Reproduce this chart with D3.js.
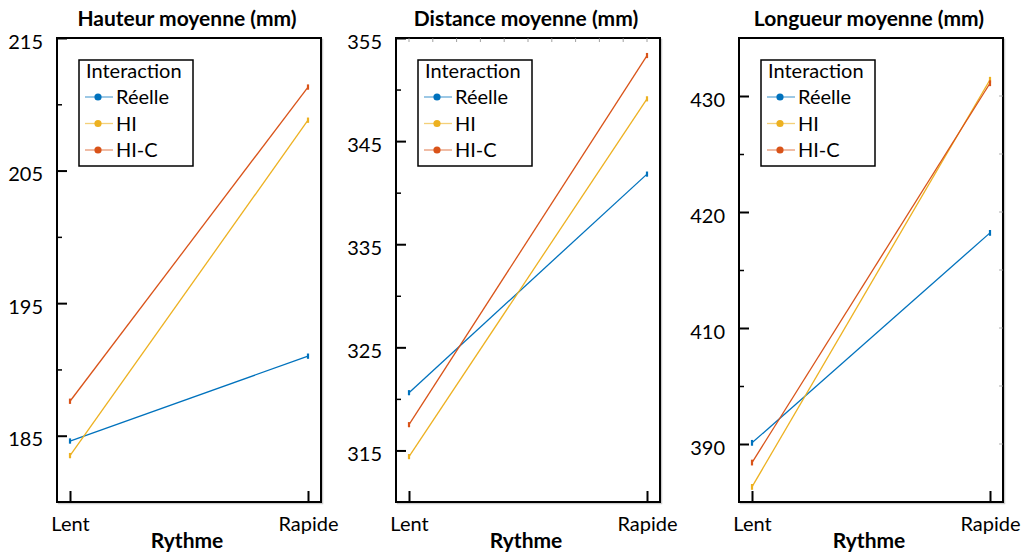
<html lang="fr">
<head>
    <meta charset="utf-8">
    <title>Rythme x Interaction</title>
    <script src="https://cdn.jsdelivr.net/npm/d3@7"></script>
    <style>
        body { margin: 0; background: #fff; }
        text { font-family: Lato, "Open Sans", sans-serif; fill: #000; }
        .title, .xlabel { font-weight: 700; font-size: 21px; }
        .tick-label { font-size: 20px; }
        .series { fill: none; stroke-width: 1.3px; }
    </style>
</head>
<body>
    <svg width="1022" height="554"></svg>
    <script>
        // categories
        var rythme = ["Lent", "Rapide"];
        var interactions = ["Réelle", "HI", "HI-C"];
        var colors = ["#0072BD", "#EDB120", "#D95319"];
        var titles = ["Hauteur moyenne (mm)", "Distance moyenne (mm)", "Longueur moyenne (mm)"];

        // values (Lent, Rapide)
        var hauteurReelle = [184.6, 191.0],
            hauteurHI = [183.5, 208.8],
            hauteurHIC = [187.6, 211.3];
        var distanceReelle = [320.6, 341.8],
            distanceHI = [314.4, 349.1],
            distanceHIC = [317.5, 353.3];
        var longueurReelle = [400.1, 418.2],
            longueurHI = [396.3, 431.4],
            longueurHIC = [398.4, 431.1];

        // half-length of the small error bars
        var errHalf = [0.2, 0.25, 0.25];

        // y axes
        var yDomains = [[180, 215], [310, 355], [395, 435]];
        var majorTicks = [[185, 195, 205, 215], [315, 325, 335, 345, 355], [400, 410, 420, 430]];
        var majorLabels = [["185", "195", "205", "215"], ["315", "325", "335", "345", "355"], ["390", "410", "420", "430"]];
        var minorTicks = [[190, 200, 210], [320, 330, 340, 350], [405, 415, 425]];

        var panels = [
            {series: [hauteurReelle, hauteurHI, hauteurHIC]},
            {series: [distanceReelle, distanceHI, distanceHIC]},
            {series: [longueurReelle, longueurHI, longueurHIC]}
        ];

        var svg = d3.select("svg");
        var lefts = [57, 396, 739], pw = 264, plotTop = 38, plotBottom = 502;

        panels.forEach(function(p, i) {
            var left = lefts[i], right = left + pw;
            var g = svg.append("g");

            var x = d3.scalePoint().domain(rythme).range([left + 13, right - 13]);
            var y = d3.scaleLinear().domain(yDomains[i]).range([plotBottom, plotTop]);

            // faint shadow + frame
            g.append("rect")
                .attr("x", left + 1.5).attr("y", plotTop + 1.5)
                .attr("width", pw).attr("height", plotBottom - plotTop)
                .attr("fill", "none").attr("stroke", "#ccc").attr("stroke-width", 1.5);
            g.append("rect")
                .attr("x", left).attr("y", plotTop)
                .attr("width", pw).attr("height", plotBottom - plotTop)
                .attr("fill", "#fff").attr("stroke", "#000").attr("stroke-width", 2);

            // faint mirrored ticks
            if (i === 1) {
                var xs = d3.scaleLinear().domain([0, 10]).range(x.range());
                g.append("g").selectAll("line").data(d3.range(11)).enter().append("line")
                    .attr("x1", function(d) { return xs(d); }).attr("x2", function(d) { return xs(d); })
                    .attr("y1", plotTop).attr("y2", plotTop + 4)
                    .attr("stroke", "#888").attr("stroke-width", 0.8);
            }
            if (i === 2) {
                g.append("g").selectAll("line").data(minorTicks[i].concat(majorTicks[i])).enter().append("line")
                    .attr("x1", right).attr("x2", right - 4)
                    .attr("y1", function(d) { return y(d); }).attr("y2", function(d) { return y(d); })
                    .attr("stroke", "#999").attr("stroke-width", 0.8);
            }

            // y axis (ticks pointing inward)
            var yAxis = d3.axisRight(y).tickValues(majorTicks[i]).tickSize(10)
                .tickFormat(function(d, k) { return majorLabels[i][k]; });
            var ya = g.append("g").attr("transform", "translate(" + left + ",0)").call(yAxis);
            ya.select(".domain").remove();
            ya.selectAll(".tick line").attr("stroke", "#000").attr("stroke-width", 2).attr("x1", -1);
            ya.selectAll(".tick text").attr("class", "tick-label")
                .attr("x", -14).attr("dy", "0.5em").attr("text-anchor", "end");

            g.append("g").attr("transform", "translate(" + left + ",0)")
                .call(d3.axisRight(y).tickValues(minorTicks[i]).tickSize(5).tickFormat(""))
                .call(function(s) {
                    s.select(".domain").remove();
                    s.selectAll(".tick line").attr("stroke", "#000").attr("stroke-width", 1.5);
                });

            // x axis (ticks pointing up)
            var xa = g.append("g").attr("transform", "translate(0," + plotBottom + ")")
                .call(d3.axisTop(x).tickSize(11));
            xa.select(".domain").remove();
            xa.selectAll(".tick line").attr("stroke", "#000").attr("stroke-width", 2);
            xa.selectAll(".tick text").attr("class", "tick-label")
                .attr("y", 29).attr("dy", 0).attr("text-anchor", "middle");

            // series lines and error bars
            var line = d3.line()
                .x(function(d, k) { return x(rythme[k]); })
                .y(function(d) { return y(d); });

            p.series.forEach(function(vals, s) {
                g.append("path").datum(vals)
                    .attr("class", "series")
                    .attr("stroke", colors[s])
                    .attr("d", line);
                g.append("g").selectAll("line").data(vals).enter().append("line")
                    .attr("x1", function(d, k) { return x(rythme[k]); })
                    .attr("x2", function(d, k) { return x(rythme[k]); })
                    .attr("y1", function(d) { return y(d - errHalf[i]); })
                    .attr("y2", function(d) { return y(d + errHalf[i]); })
                    .attr("stroke", colors[s]).attr("stroke-width", 2.2);
            });

            // title and x label
            var cx = left + pw / 2;
            g.append("text").attr("class", "title")
                .attr("x", cx - 2).attr("y", 26).attr("text-anchor", "middle")
                .text(titles[i]);
            g.append("text").attr("class", "xlabel")
                .attr("x", cx - 2).attr("y", 548).attr("text-anchor", "middle")
                .text("Rythme");

            // legend
            var lx = left + 22, ly = 60;
            var lg = g.append("g");
            lg.append("rect")
                .attr("x", lx).attr("y", ly).attr("width", 114).attr("height", 106)
                .attr("fill", "#fff").attr("stroke", "#000").attr("stroke-width", 1.5);
            lg.append("text").attr("class", "tick-label")
                .attr("x", lx + 7).attr("y", ly + 18).text("Interaction");
            interactions.forEach(function(name, s) {
                var ry = ly + 37 + s * 26.5;
                lg.append("line")
                    .attr("x1", lx + 6).attr("x2", lx + 34)
                    .attr("y1", ry).attr("y2", ry)
                    .attr("stroke", colors[s]).attr("stroke-opacity", 0.6).attr("stroke-width", 1.3);
                lg.append("circle")
                    .attr("cx", lx + 19).attr("cy", ry).attr("r", 3.6)
                    .attr("fill", colors[s]);
                lg.append("text").attr("class", "tick-label")
                    .attr("x", lx + 37).attr("y", ry + 7).text(name);
            });
        });
    </script>
</body>
</html>
